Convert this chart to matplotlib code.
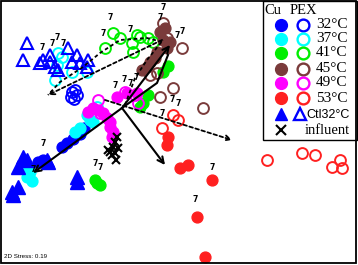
import matplotlib
matplotlib.use('Agg')
import matplotlib.pyplot as plt
from matplotlib.patches import Rectangle

# ---------------------------------------------------------------------------
# NMDS scores (x right, y down)
# ---------------------------------------------------------------------------

cu32_x = [67, 73, 80, 84, 43, 38, 62]
cu32_y = [143, 139, 134, 128, 160, 162, 147]
pex32_x = [72, 75, 77, 71, 74]
pex32_y = [92, 90, 95, 97, 99]

cu37_x = [30, 27, 32, 28, 90, 87, 93, 75, 80]
cu37_y = [172, 177, 181, 168, 120, 115, 122, 132, 128]
pex37_x = [58, 57, 55, 72, 87, 62, 97]
pex37_y = [53, 65, 80, 72, 72, 57, 107]

cu41_x = [97, 95, 100, 168, 163, 148, 143, 140]
cu41_y = [183, 180, 185, 66, 72, 95, 103, 107]
pex41_x = [113, 105, 120, 132, 133, 137, 140, 148, 153]
pex41_y = [33, 48, 38, 43, 52, 35, 37, 38, 42]

cu45_x = [160, 163, 170, 167, 157, 155, 147, 142, 165, 150]
cu45_y = [32, 40, 42, 48, 52, 58, 67, 70, 28, 62]
pex45_x = [163, 167, 182, 157, 173, 203, 160, 150]
pex45_y = [23, 38, 48, 73, 88, 108, 97, 75]

cu49_x = [88, 93, 103, 110, 110, 113, 112, 117, 127, 137, 107, 98]
cu49_y = [112, 108, 113, 122, 127, 132, 137, 97, 93, 93, 118, 110]
pex49_x = [98, 100, 125, 135, 138]
pex49_y = [100, 113, 92, 95, 103]

cu53_x = [168, 167, 180, 188, 212, 197, 205]
cu53_y = [137, 145, 168, 165, 180, 217, 257]
pex53_x = [173, 178, 162, 267, 302, 315, 332, 340, 342]
pex53_y = [115, 120, 128, 160, 153, 155, 167, 160, 168]

ctl_open_x = [27, 23, 40, 43, 50, 58, 68, 77, 72, 80, 88, 87, 55, 50]
ctl_open_y = [43, 60, 63, 60, 62, 70, 48, 55, 62, 63, 60, 67, 67, 55]
ctl_fill_x = [23, 27, 18, 47, 48, 77, 77, 12, 18, 13]
ctl_fill_y = [157, 160, 167, 160, 162, 177, 182, 192, 187, 195]

infl_x = [117, 115, 113, 110, 115, 118, 112, 108, 116]
infl_y = [137, 142, 147, 152, 153, 148, 155, 150, 160]

seven_x = [163, 160, 110, 103, 130, 42, 52, 57, 63, 115, 124, 130, 136,
           172, 178, 162, 177, 182, 212, 195, 43, 95, 100, 33]
seven_y = [7, 17, 17, 33, 30, 47, 43, 37, 44, 85, 80, 83, 78,
           100, 103, 113, 35, 32, 167, 200, 143, 163, 167, 170]

# arrows: (start, end)
solid_arrows = [((122, 108), (33, 173)), ((122, 108), (165, 165)),
                ((122, 108), (170, 45))]
solid_path_x = [122, 157, 168]
solid_path_y = [108, 83, 55]
dash_arrows = [((105, 100), (232, 140)), ((162, 40), (48, 95))]
dash_curve_x = [162, 147, 120, 100, 83, 60, 48]
dash_curve_y = [42, 38, 40, 53, 67, 82, 95]
dash_path_x = [125, 135, 147, 163]
dash_path_y = [105, 78, 60, 40]

legend_labels = ['32\u00b0C', '37\u00b0C', '41\u00b0C', '45\u00b0C', '49\u00b0C', '53\u00b0C']
colors = ['#0000ff', '#00ffff', '#00ee00', '#7a3b3b', '#ff00ff', '#ff2020']

fig = plt.figure(figsize=(3.58, 2.65), dpi=100)
ax = fig.add_axes([0, 0, 1, 1])
ax.set_xlim(0, 358)
ax.set_ylim(265, 0)
ax.set_xticks([])
ax.set_yticks([])
for s in ax.spines.values():
    s.set_visible(False)
ax.add_patch(Rectangle((1, 1), 355, 262, fill=False, lw=1.3, ec='black', zorder=10))

ms = 7.8
groups = [(cu32_x, cu32_y, pex32_x, pex32_y), (cu37_x, cu37_y, pex37_x, pex37_y),
          (cu41_x, cu41_y, pex41_x, pex41_y), (cu45_x, cu45_y, pex45_x, pex45_y),
          (cu49_x, cu49_y, pex49_x, pex49_y), (cu53_x, cu53_y, pex53_x, pex53_y)]
for (fx, fy, ox, oy), c in zip(groups, colors):
    ax.plot(fx, fy, 'o', color=c, ms=ms, mec=c, ls='none', zorder=3)
    ax.plot(ox, oy, 'o', mfc='none', mec=c, mew=1.4, ms=ms, ls='none', zorder=3)
ax.plot(ctl_open_x, ctl_open_y, '^', mfc='none', mec='#0000ff', mew=1.5, ms=8.5, ls='none', zorder=3)
ax.plot(ctl_fill_x, ctl_fill_y, '^', color='#0000ff', ms=9.5, ls='none', zorder=3)
ax.plot(infl_x, infl_y, 'x', color='black', ms=6, mew=1.5, ls='none', zorder=4)

for x, y in zip(seven_x, seven_y):
    ax.text(x, y, '7', fontsize=5.5, fontweight='bold', ha='center', va='center', zorder=5)

for (x0, y0), (x1, y1) in solid_arrows:
    ax.annotate('', xy=(x1, y1), xytext=(x0, y0),
                arrowprops=dict(arrowstyle='->', lw=1.5, color='black',
                                mutation_scale=11, shrinkA=0, shrinkB=0), zorder=6)
ax.plot(solid_path_x, solid_path_y, '-', color='black', lw=1.5, zorder=6)
for (x0, y0), (x1, y1) in dash_arrows:
    ax.annotate('', xy=(x1, y1), xytext=(x0, y0),
                arrowprops=dict(arrowstyle='->', lw=1.3, ls=(0, (2, 1.5)), color='black',
                                mutation_scale=9, shrinkA=0, shrinkB=0), zorder=6)
ax.plot(dash_curve_x, dash_curve_y, ls=(0, (2, 1.5)), color='black', lw=1.3, zorder=6)
ax.plot(dash_path_x, dash_path_y, ls=(0, (2, 1.5)), color='black', lw=1.3, zorder=6)

# legend box
ax.add_patch(Rectangle((263, 1), 94, 139, fc='white', ec='black', lw=1.0, zorder=8))
serif = 'Liberation Serif'
ax.text(264, 11, 'Cu', fontsize=10.5, family=serif, va='center', zorder=9)
ax.text(290, 11, 'PEX', fontsize=10.5, family=serif, va='center', zorder=9)
row_y = [25, 39, 53, 69, 83, 98]
for ry, c, lab in zip(row_y, colors, legend_labels):
    ax.plot(281, ry, 'o', color=c, ms=8.5, zorder=9)
    ax.plot(303, ry, 'o', mfc='white', mec=c, mew=1.7, ms=8.5, zorder=9)
    ax.text(316, ry, lab, fontsize=11, family=serif, va='center', zorder=9)
ax.plot(281, 114, '^', color='#0000ff', ms=9, zorder=9)
ax.plot(300, 114, '^', mfc='white', mec='#0000ff', mew=1.7, ms=9, zorder=9)
ax.text(306, 115, 'Ctl32\u00b0C', fontsize=9, family='Liberation Sans', va='center', zorder=9)
ax.plot(281, 130, 'x', color='black', ms=7.5, mew=1.5, zorder=9)
ax.text(305, 131, 'influent', fontsize=10.5, family=serif, va='center', zorder=9)

ax.text(4, 257, '2D Stress: 0.19', fontsize=4.5, family='Liberation Sans', va='center')

fig.savefig('out.png', dpi=100)
